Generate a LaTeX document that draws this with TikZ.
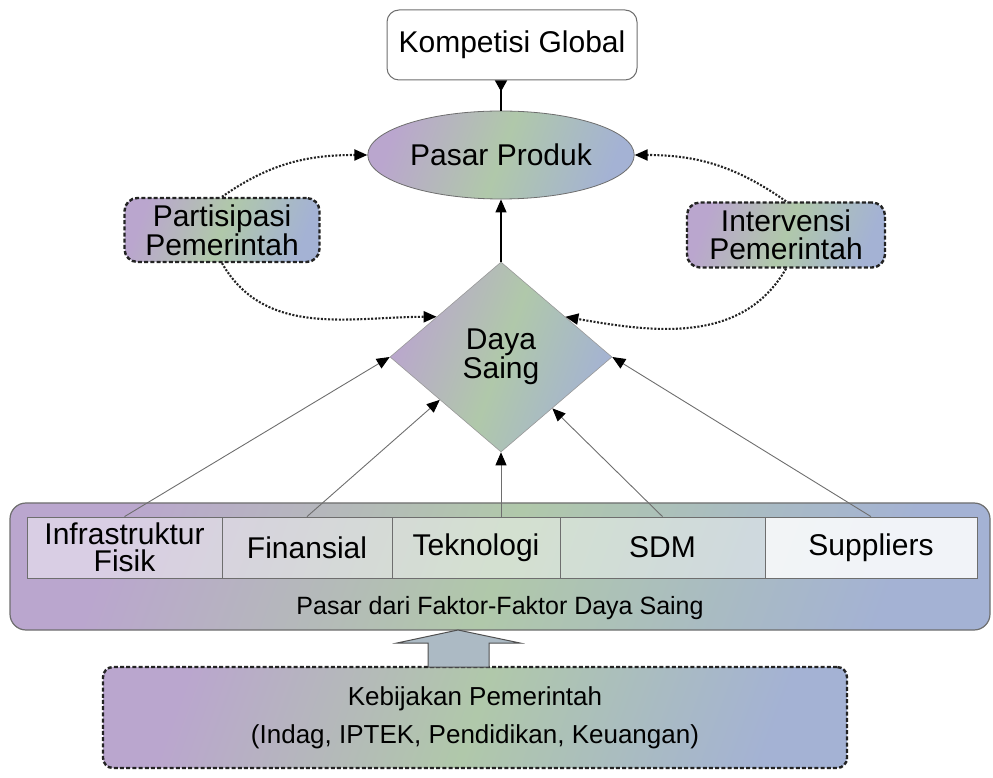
\documentclass[tikz,border=0pt]{standalone}
\usepackage{fontspec}
\setmainfont{Liberation Sans}
\usetikzlibrary{shapes.geometric,arrows.meta}
\definecolor{lilac}{RGB}{186,166,206}
\definecolor{sage}{RGB}{176,200,170}
\definecolor{rose}{RGB}{214,176,196}
\definecolor{haze}{RGB}{164,178,212}
\definecolor{steel}{RGB}{172,186,196}
\definecolor{ink}{RGB}{35,35,35}
\definecolor{edge}{RGB}{110,110,110}

\begin{document}
\begin{tikzpicture}[x=1pt,y=1pt,
  txt/.style={font=\fontsize{30}{27.5}\selectfont, align=center, text=black},
  glitter/.style={left color=lilac, right color=haze, middle color=sage, shading angle=70},
  dotbox/.style={txt, glitter, draw=ink, line width=2.4pt, dash pattern=on 4pt off 2.2pt, rounded corners=13pt},
  cell/.style={txt, draw=edge, line width=0.8pt, fill=white, fill opacity=0.45, text opacity=1, minimum height=61pt, inner sep=0pt},
  headed/.style={-{Triangle[length=13pt,width=11pt,color=black]}},
  feed/.style={headed, draw=edge, line width=0.9pt},
  dotarc/.style={headed, draw=ink, line width=2.1pt, dash pattern=on 2pt off 1.6pt}
]
\useasboundingbox (0,0) rectangle (993,777);

\node[txt, draw=edge, line width=1pt, fill=white, rounded corners=12pt, minimum width=250pt, minimum height=70pt] (komp) at (512,732) {Kompetisi Global};
\node[txt, ellipse, glitter, draw=edge, line width=0.8pt, minimum width=228pt, minimum height=88pt] (pasar) at (501,622) {Pasar Produk};
\node[txt, diamond, glitter, draw=edge!70, line width=0.6pt, minimum width=222pt, minimum height=190pt, inner sep=0pt] (daya) at (501,420) {Daya\\Saing};
\node[dotbox, minimum width=195pt, minimum height=64pt] (part) at (222,547) {Partisipasi\\Pemerintah};
\node[dotbox, minimum width=198pt, minimum height=65pt] (interv) at (786,542) {Intervensi\\Pemerintah};

% faktor-faktor daya saing
\node[glitter, draw=edge, line width=1.2pt, rounded corners=16pt, minimum width=980pt, minimum height=127pt] (band) at (500,210.5) {};
\node[cell, minimum width=195pt] (infra) at (124.5,229.5) {Infrastruktur\\Fisik};
\node[cell, minimum width=170pt] (finan) at (307,229.5) {Finansial};
\node[cell, minimum width=168pt] (tekno) at (476,229.5) {Teknologi};
\node[cell, minimum width=205pt] (sdm) at (662.5,229.5) {SDM};
\node[cell, minimum width=212pt, fill opacity=0.85] (supp) at (871,229.5) {Suppliers};
\node[font=\fontsize{25}{25}\selectfont] (cap) at (500,169) {Pasar dari Faktor-Faktor Daya Saing};

\node[dotbox, font=\fontsize{26}{38}\selectfont, rounded corners=10pt, minimum width=744pt, minimum height=101pt] (kebij) at (475,59.5) {Kebijakan Pemerintah\\(Indag, IPTEK, Pendidikan, Keuangan)};

% panah blok
\coordinate (up) at (458,147);
\draw[draw=ink!80, line width=1pt, fill=steel] (up) -- ++(62,-13) -- ++(-31,0) -- ++(0,-24) -- ++(-61,0) -- ++(0,24) -- ++(-31,0) -- cycle;

\draw[-{Triangle[reversed,length=11pt,width=12pt]}, line width=1.2pt] (pasar.north) -- (pasar.north |- komp.south);
\draw[headed, line width=1.2pt] (daya.north) -- (pasar.south);

\draw[dotarc] (part.north) to[out=35, in=180] (pasar.west);
\draw[dotarc] (part.south) to[out=-60, in=180] (daya.148);
\draw[dotarc] (interv.north) to[out=145, in=0] (pasar.east);
\draw[dotarc] (interv.south) to[out=-120, in=-10] (daya.32);

\draw[feed] (infra.north) -- (daya.west);
\draw[feed] (finan.north) -- (daya.215);
\draw[feed] (daya.south |- tekno.north) -- (daya.south);
\draw[feed] (sdm.north) -- (daya.315);
\draw[feed] (supp.north) -- (daya.east);

\end{tikzpicture}
\end{document}
